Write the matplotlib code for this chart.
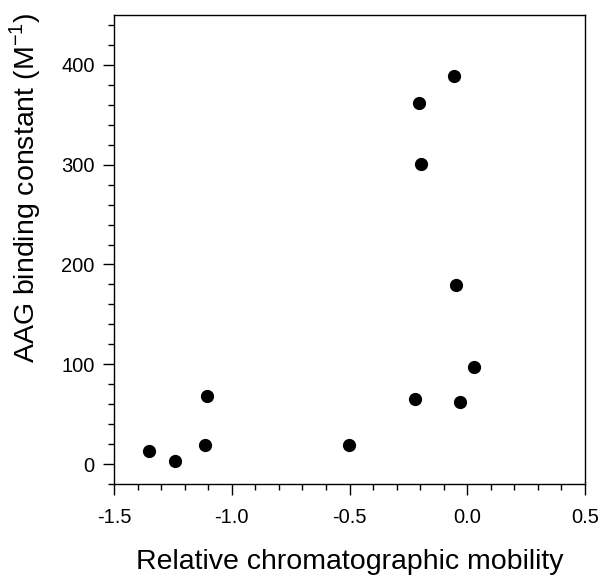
import numpy as np
import matplotlib
matplotlib.use("Agg")
import matplotlib.pyplot as plt
from matplotlib.ticker import MultipleLocator

plt.rcParams['font.family'] = ['Liberation Sans', 'DejaVu Sans']

# values
mobility = [-1.35, -1.24, -1.112, -1.104, -0.502, -0.222, -0.206, -0.198,
            -0.055, -0.049, -0.032, 0.030]
binding = [13, 3, 19, 68, 19, 65, 362, 301, 389, 179, 62, 97]

fig = plt.figure(figsize=(6.0, 5.76), dpi=100)
ax = fig.add_axes([0.19, 0.1597, 0.785, 0.8143])

ax.plot(mobility, binding, 'o', color='black', markersize=8.5, linestyle='none')

ax.set_xlim(-1.5, 0.5)
ax.set_ylim(-20, 450)
ax.xaxis.set_major_locator(MultipleLocator(0.5))
ax.xaxis.set_minor_locator(MultipleLocator(0.1))
ax.yaxis.set_major_locator(MultipleLocator(100))
ax.yaxis.set_minor_locator(MultipleLocator(20))
ax.xaxis.set_major_formatter(plt.FuncFormatter(lambda v, p: f'{v:.1f}'))

ax.tick_params(which='major', direction='out', length=8, width=1, labelsize=14.5)
ax.tick_params(axis='x', which='major', pad=9)
ax.tick_params(axis='y', which='major', pad=6)
ax.tick_params(which='minor', direction='out', length=4, width=1)
ax.tick_params(top=False, right=False, which='both')
for s in ax.spines.values():
    s.set_linewidth(1)

ax.set_xlabel('Relative chromatographic mobility', fontsize=20.5, labelpad=16)
ax.set_ylabel(r'AAG binding constant (M$^{\mathregular{-1}}$)', fontsize=20.5)
ax.yaxis.set_label_coords(-0.151, 0.631)

fig.savefig('out.png', dpi=100)
